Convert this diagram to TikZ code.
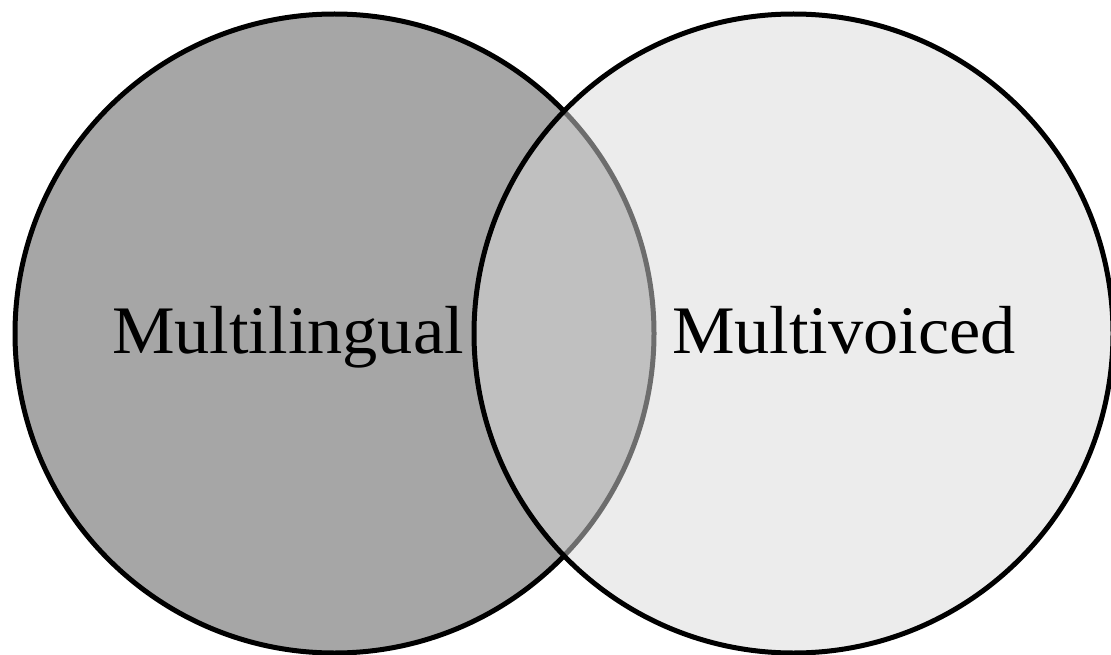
\documentclass[tikz,border=0pt]{standalone}
\usepackage{fontspec}
\setmainfont[FakeStretch=1.035]{Liberation Serif}
\definecolor{leftgray}{RGB}{166,166,166}
\definecolor{rightgray}{RGB}{218,218,218}
\tikzset{
  venn/.style={circle, draw=black, line width=5pt, minimum size=639pt, inner sep=0pt, outer sep=0pt},
  label text/.style={anchor=base west, inner sep=0pt, outer sep=0pt, font=\fontsize{68}{80}\selectfont}
}
\begin{document}
\begin{tikzpicture}[x=1pt, y=-1pt]
\useasboundingbox (0,0) rectangle (1111,655);
\node[venn, fill=leftgray] (L) at (334.5,333.5) {};
\node[venn, fill=rightgray, fill opacity=0.5, draw opacity=1] (R) at (793.5,333.5) {};
\node[label text] (tl) at (112,353) {Multilingual};
\node[label text] (tr) at (672,353) {Multivoiced};
\end{tikzpicture}
\end{document}
